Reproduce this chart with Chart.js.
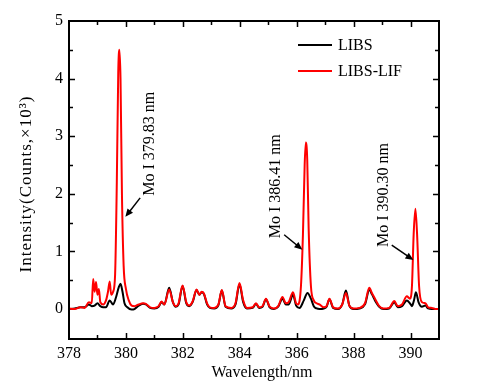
<!DOCTYPE html>
<html lang="en">
<head>
  <meta charset="UTF-8" />
  <title>LIBS vs LIBS-LIF spectrum</title>
  <script src="https://cdn.jsdelivr.net/npm/chart.js"></script>
  <style>
    html, body { margin: 0; padding: 0; background: #fff; }
    #wrap { width: 486px; height: 388px; }
  </style>
</head>
<body>
  <div id="wrap"><canvas id="spectrumChart" width="486" height="388"></canvas></div>

  <script>
    // ---- data ----
    const libsWl = [378.00, 378.20, 378.40, 378.55, 378.70, 378.80, 378.90, 379.00, 379.10, 379.20,
      379.30, 379.43, 379.55, 379.65, 379.75, 379.81, 379.88, 379.95, 380.05, 380.20,
      380.30, 380.45, 380.60, 380.70, 380.85, 381.00, 381.15, 381.25, 381.35, 381.52,
      381.65, 381.75, 381.85, 381.99, 382.12, 382.22, 382.35, 382.48, 382.58, 382.66,
      382.74, 382.85, 382.95, 383.10, 383.25, 383.37, 383.50, 383.70, 383.85, 383.99,
      384.12, 384.25, 384.45, 384.57, 384.68, 384.80, 384.92, 385.05, 385.20, 385.35,
      385.50, 385.62, 385.72, 385.87, 385.98, 386.10, 386.25, 386.38, 386.50, 386.60,
      386.70, 386.80, 386.95, 387.05, 387.15, 387.28, 387.45, 387.60, 387.73, 387.85,
      388.00, 388.20, 388.40, 388.55, 388.65, 388.75, 388.90, 389.05, 389.25, 389.43,
      389.55, 389.70, 389.87, 389.98, 390.05, 390.12, 390.19, 390.28, 390.40, 390.52,
      390.62, 390.75, 390.90, 391.00];
    const libsVal = [0.00, 0.01, 0.03, 0.03, 0.08, 0.05, 0.06, 0.10, 0.05, 0.03,
      0.03, 0.15, 0.08, 0.20, 0.38, 0.44, 0.30, 0.10, 0.03, -0.01,
      0.00, 0.06, 0.09, 0.08, 0.02, 0.01, 0.04, 0.12, 0.08, 0.37,
      0.12, 0.04, 0.08, 0.40, 0.10, 0.05, 0.13, 0.33, 0.25, 0.29,
      0.26, 0.08, 0.02, 0.01, 0.07, 0.32, 0.04, 0.01, 0.08, 0.43,
      0.12, 0.01, 0.02, 0.09, 0.02, 0.04, 0.17, 0.03, 0.00, 0.04,
      0.18, 0.08, 0.08, 0.25, 0.06, 0.02, 0.15, 0.28, 0.18, 0.05,
      0.01, 0.00, 0.01, 0.04, 0.17, 0.02, 0.00, 0.08, 0.32, 0.06,
      0.00, 0.01, 0.08, 0.33, 0.25, 0.15, 0.04, 0.00, 0.01, 0.12,
      0.03, 0.05, 0.15, 0.10, 0.05, 0.15, 0.29, 0.12, 0.04, 0.06,
      0.01, 0.00, 0.00, 0.00];

    const lifWl = [378.00, 378.20, 378.40, 378.55, 378.70, 378.80, 378.85, 378.90, 378.95, 379.00,
      379.05, 379.10, 379.20, 379.30, 379.37, 379.43, 379.48, 379.55, 379.62, 379.68,
      379.73, 379.77, 379.81, 379.86, 379.92, 380.00, 380.10, 380.20, 380.30, 380.45,
      380.60, 380.70, 380.85, 381.00, 381.15, 381.25, 381.35, 381.52, 381.65, 381.75,
      381.85, 381.99, 382.12, 382.22, 382.35, 382.48, 382.58, 382.66, 382.74, 382.85,
      382.95, 383.10, 383.25, 383.37, 383.50, 383.70, 383.85, 383.99, 384.12, 384.25,
      384.45, 384.57, 384.68, 384.80, 384.92, 385.05, 385.20, 385.35, 385.50, 385.62,
      385.72, 385.87, 385.98, 386.05, 386.15, 386.22, 386.28, 386.32, 386.37, 386.42,
      386.50, 386.60, 386.70, 386.80, 386.95, 387.05, 387.15, 387.28, 387.45, 387.60,
      387.73, 387.85, 388.00, 388.20, 388.40, 388.55, 388.65, 388.75, 388.90, 389.05,
      389.25, 389.43, 389.55, 389.70, 389.87, 389.98, 390.05, 390.11, 390.17, 390.23,
      390.30, 390.40, 390.52, 390.62, 390.75, 390.90, 391.00];
    const lifVal = [0.01, 0.00, 0.03, 0.02, 0.12, 0.10, 0.52, 0.30, 0.47, 0.25,
      0.35, 0.12, 0.08, 0.15, 0.30, 0.48, 0.25, 0.30, 0.60, 2.20,
      4.10, 4.50, 4.00, 2.00, 0.75, 0.35, 0.15, 0.06, 0.05, 0.08,
      0.10, 0.09, 0.03, 0.02, 0.05, 0.13, 0.08, 0.34, 0.12, 0.05,
      0.10, 0.41, 0.12, 0.06, 0.14, 0.34, 0.25, 0.30, 0.27, 0.10,
      0.03, 0.02, 0.08, 0.33, 0.05, 0.02, 0.10, 0.45, 0.15, 0.02,
      0.03, 0.10, 0.03, 0.05, 0.18, 0.04, 0.01, 0.05, 0.21, 0.10,
      0.12, 0.29, 0.10, 0.08, 0.40, 1.30, 2.50, 2.89, 2.60, 1.40,
      0.40, 0.15, 0.10, 0.08, 0.03, 0.05, 0.18, 0.03, 0.01, 0.08,
      0.28, 0.06, 0.01, 0.02, 0.10, 0.37, 0.27, 0.18, 0.05, 0.01,
      0.02, 0.14, 0.05, 0.08, 0.22, 0.18, 0.40, 1.30, 1.74, 1.30,
      0.40, 0.12, 0.10, 0.03, 0.02, 0.00, 0.00];

    const xTicks = [378, 380, 382, 384, 386, 388, 390];
    const yTicks = [0, 1, 2, 3, 4, 5];

    // peak labels: text centre, arrow start, arrow tip (data coords)
    const peakNotes = [
      { text: 'Mo I 379.83 nm', at: [380.85, 2.87], from: [380.50, 1.93], to: [379.98, 1.60] },
      { text: 'Mo I 386.41 nm', at: [385.27, 2.13], from: [385.56, 1.29], to: [386.20, 1.03] },
      { text: 'Mo I 390.30 nm', at: [389.05, 1.98], from: [389.34, 1.11], to: [390.10, 0.85] }
    ];

    const serif = '"Liberation Serif", "DejaVu Serif", serif';

    const toXY = (xs, ys) => xs.map((x, i) => ({ x: x, y: ys[i] }));

    // frame, inward ticks, titles, legend, peak notes
    const decor = {
      id: 'decor',
      afterDraw(chart) {
        const c = chart.ctx;
        const a = chart.chartArea;
        const xs = chart.scales.x, ys = chart.scales.y;
        c.save();
        c.strokeStyle = '#000';
        c.fillStyle = '#000';

        // ticks
        c.lineWidth = 1.5;
        c.beginPath();
        for (let v = 379; v <= 390; v++) {
          const px = Math.round(xs.getPixelForValue(v)) + 0.5;
          const len = v % 2 === 0 ? 6 : 4;
          c.moveTo(px, a.bottom); c.lineTo(px, a.bottom - len);
          c.moveTo(px, a.top); c.lineTo(px, a.top + len);
        }
        for (let k = 1; k < 10; k++) {
          const v = k * 0.5;
          const py = Math.round(ys.getPixelForValue(v)) + 0.5;
          const len = k % 2 === 0 ? 6 : 4;
          c.moveTo(a.left, py); c.lineTo(a.left + len, py);
          c.moveTo(a.right, py); c.lineTo(a.right - len, py);
        }
        c.stroke();

        // frame
        c.lineWidth = 2;
        c.strokeRect(a.left, a.top, a.right - a.left, a.bottom - a.top);

        // axis titles
        c.font = '16px ' + serif;
        c.textAlign = 'center';
        c.textBaseline = 'alphabetic';
        c.fillText('Wavelength/nm', 262, 377);
        c.save();
        c.translate(31, 184);
        c.rotate(-Math.PI / 2);
        c.font = '17px ' + serif;
        c.letterSpacing = '1px';
        c.fillText('Intensity(Counts,×10³)', 0, 0);
        c.restore();

        // legend
        const legend = [['LIBS', '#000', 45], ['LIBS-LIF', '#ff0000', 71]];
        c.textAlign = 'left';
        c.textBaseline = 'middle';
        legend.forEach(([label, col, y]) => {
          c.strokeStyle = col;
          c.lineWidth = 2.2;
          c.beginPath(); c.moveTo(298, y); c.lineTo(332, y); c.stroke();
          c.fillStyle = '#000';
          c.fillText(label, 338, y + 1);
        });

        // peak notes
        c.strokeStyle = '#000';
        c.fillStyle = '#000';
        peakNotes.forEach(n => {
          const tx = xs.getPixelForValue(n.at[0]), ty = ys.getPixelForValue(n.at[1]);
          c.save();
          c.translate(tx, ty);
          c.rotate(-Math.PI / 2);
          c.textAlign = 'center';
          c.textBaseline = 'middle';
          c.fillText(n.text, 0, 0);
          c.restore();

          const x0 = xs.getPixelForValue(n.from[0]), y0 = ys.getPixelForValue(n.from[1]);
          const x1 = xs.getPixelForValue(n.to[0]), y1 = ys.getPixelForValue(n.to[1]);
          const ang = Math.atan2(y1 - y0, x1 - x0);
          c.lineWidth = 1.5;
          c.beginPath(); c.moveTo(x0, y0);
          c.lineTo(x1 - 5 * Math.cos(ang), y1 - 5 * Math.sin(ang)); c.stroke();
          c.beginPath();
          c.moveTo(x1, y1);
          c.lineTo(x1 - 8 * Math.cos(ang) + 3.5 * Math.sin(ang), y1 - 8 * Math.sin(ang) - 3.5 * Math.cos(ang));
          c.lineTo(x1 - 8 * Math.cos(ang) - 3.5 * Math.sin(ang), y1 - 8 * Math.sin(ang) + 3.5 * Math.cos(ang));
          c.closePath(); c.fill();
        });
        c.restore();
      }
    };

    const ctx = document.getElementById('spectrumChart').getContext('2d');
    const spectrumChart = new Chart(ctx, {
      type: 'line',
      data: {
        datasets: [
          {
            label: 'LIBS',
            data: toXY(libsWl, libsVal),
            borderColor: '#000',
            borderWidth: 2,
            pointRadius: 0,
            cubicInterpolationMode: 'monotone',
            order: 1
          },
          {
            label: 'LIBS-LIF',
            data: toXY(lifWl, lifVal),
            borderColor: '#ff0000',
            borderWidth: 2,
            pointRadius: 0,
            cubicInterpolationMode: 'monotone',
            order: 0
          }
        ]
      },
      options: {
        responsive: false,
        animation: false,
        layout: { padding: { top: 21, right: 47, left: 0, bottom: 0 } },
        plugins: {
          legend: { display: false },
          tooltip: { enabled: false }
        },
        scales: {
          x: {
            type: 'linear',
            min: 378,
            max: 391,
            afterBuildTicks: s => { s.ticks = xTicks.map(v => ({ value: v })); },
            afterFit: s => { s.height = 49; },
            grid: { display: false, drawTicks: false },
            border: { display: false },
            ticks: {
              color: '#000',
              padding: 5,
              maxRotation: 0,
              font: { family: serif, size: 16 }
            }
          },
          y: {
            type: 'linear',
            min: -0.52,
            max: 5,
            afterBuildTicks: s => { s.ticks = yTicks.map(v => ({ value: v })); },
            afterFit: s => { s.width = 69; },
            grid: { display: false, drawTicks: false },
            border: { display: false },
            ticks: {
              color: '#000',
              padding: 6,
              font: { family: serif, size: 16 }
            }
          }
        }
      },
      plugins: [decor]
    });
  </script>
</body>
</html>
